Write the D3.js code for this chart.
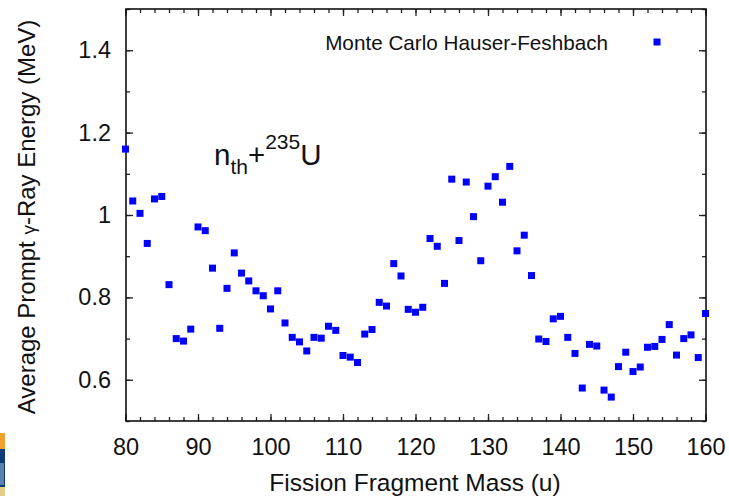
<!DOCTYPE html>
<html>
<head>
<meta charset="utf-8">
<script src="https://cdn.jsdelivr.net/npm/d3@7"></script>
<style>
  html, body { margin: 0; padding: 0; background: #fff; }
  svg { display: block; }
  text { font-family: "Liberation Sans", Arial, Helvetica, sans-serif; fill: #111; }
</style>
</head>
<body>
<script>
// Average prompt gamma-ray energy per fission fragment mass, n_th + 235U
const masses = [
  80, 81, 82, 83, 84, 85, 86, 87, 88, 89,
  90, 91, 92, 93, 94, 95, 96, 97, 98, 99,
  100, 101, 102, 103, 104, 105, 106, 107, 108, 109,
  110, 111, 112, 113, 114, 115, 116, 117, 118, 119,
  120, 121, 122, 123, 124, 125, 126, 127, 128, 129,
  130, 131, 132, 133, 134, 135, 136, 137, 138, 139,
  140, 141, 142, 143, 144, 145, 146, 147, 148, 149,
  150, 151, 152, 153, 154, 155, 156, 157, 158, 159,
  160
];
const energies = [
  1.160, 1.034, 1.004, 0.931, 1.039, 1.045, 0.831, 0.700, 0.694, 0.723,
  0.971, 0.962, 0.871, 0.725, 0.822, 0.908, 0.859, 0.840, 0.816, 0.804,
  0.772, 0.816, 0.738, 0.703, 0.692, 0.670, 0.703, 0.701, 0.730, 0.720,
  0.659, 0.655, 0.642, 0.711, 0.722, 0.788, 0.779, 0.882, 0.852, 0.771,
  0.764, 0.776, 0.943, 0.924, 0.834, 1.087, 0.938, 1.080, 0.996, 0.889,
  1.070, 1.093, 1.031, 1.118, 0.913, 0.951, 0.853, 0.699, 0.693, 0.748,
  0.754, 0.703, 0.664, 0.580, 0.686, 0.682, 0.575, 0.558, 0.632, 0.667,
  0.620, 0.631, 0.679, 0.681, 0.698, 0.734, 0.660, 0.700, 0.709, 0.654,
  0.761
];
const xMajorTicks = [80, 90, 100, 110, 120, 130, 140, 150, 160];
const xMinorTicks = d3.range(80, 161, 2);
const yMajorTicks = [0.6, 0.8, 1.0, 1.2, 1.4];
const yMinorTicks = [0.5, 0.6, 0.7, 0.8, 0.9, 1.0, 1.1, 1.2, 1.3, 1.4, 1.5];
const seriesName = "Monte Carlo Hauser-Feshbach";

const W = 729, H = 496;
const plotL = 126, plotR = 706, plotT = 9, plotB = 421;

const svg = d3.select("body").append("svg").attr("width", W).attr("height", H);

const x = d3.scaleLinear().domain([80, 160]).range([plotL - 0.5, plotR - 0.5]);
const y = d3.scaleLinear().domain([0.5, 1.5]).range([plotB, plotT]);

const yFmt = d => (d === 1 ? "1" : d3.format(".1f")(d));

// minor ticks (inward, all four sides)
const minorLen = 4, majorLen = 7;
svg.append("g").attr("transform", `translate(0,${plotB})`)
  .call(d3.axisBottom(x).tickValues(xMinorTicks).tickSizeInner(-minorLen).tickSizeOuter(0).tickFormat(""));
svg.append("g").attr("transform", `translate(0,${plotT})`)
  .call(d3.axisTop(x).tickValues(xMinorTicks).tickSizeInner(-minorLen).tickSizeOuter(0).tickFormat(""));
svg.append("g").attr("transform", `translate(${plotL},0)`)
  .call(d3.axisLeft(y).tickValues(yMinorTicks).tickSizeInner(-minorLen).tickSizeOuter(0).tickFormat(""));
svg.append("g").attr("transform", `translate(${plotR},0)`)
  .call(d3.axisRight(y).tickValues(yMinorTicks).tickSizeInner(-minorLen).tickSizeOuter(0).tickFormat(""));

// major ticks with labels
const xAxis = svg.append("g").attr("transform", `translate(0,${plotB})`)
  .call(d3.axisBottom(x).tickValues(xMajorTicks).tickSizeInner(-majorLen).tickSizeOuter(0).tickPadding(17));
const yAxis = svg.append("g").attr("transform", `translate(${plotL},0)`)
  .call(d3.axisLeft(y).tickValues(yMajorTicks).tickFormat(yFmt).tickSizeInner(-majorLen).tickSizeOuter(0).tickPadding(15));
svg.append("g").attr("transform", `translate(0,${plotT})`)
  .call(d3.axisTop(x).tickValues(xMajorTicks).tickSizeInner(-majorLen).tickSizeOuter(0).tickFormat(""));
svg.append("g").attr("transform", `translate(${plotR},0)`)
  .call(d3.axisRight(y).tickValues(yMajorTicks).tickSizeInner(-majorLen).tickSizeOuter(0).tickFormat(""));

svg.selectAll(".domain").remove();
svg.selectAll(".tick line").attr("stroke", "#222").attr("stroke-width", 1.3);
[xAxis, yAxis].forEach(g => g.selectAll("text")
  .attr("font-family", '"Liberation Sans", Arial, sans-serif')
  .attr("font-size", 23.5).attr("fill", "#111"));

// plot frame
svg.append("rect")
  .attr("x", plotL).attr("y", plotT)
  .attr("width", plotR - plotL).attr("height", plotB - plotT)
  .attr("fill", "none").attr("stroke", "#111").attr("stroke-width", 1.6);

// data points
const pts = masses.map((m, i) => ({ m, e: energies[i] }));
const ms = 7;
svg.append("g").selectAll("rect").data(pts).join("rect")
  .attr("x", d => x(d.m) - ms / 2)
  .attr("y", d => y(d.e) - ms / 2)
  .attr("width", ms).attr("height", ms)
  .attr("fill", "#0000ff");

// legend
svg.append("text")
  .attr("x", 608).attr("y", 50)
  .attr("text-anchor", "end")
  .attr("font-size", 20.7)
  .text(seriesName);
svg.append("rect")
  .attr("x", 657 - ms / 2).attr("y", 42 - ms / 2)
  .attr("width", ms).attr("height", ms)
  .attr("fill", "#0000ff");

// reaction annotation
const ann = svg.append("text").attr("x", 214).attr("y", 165).attr("font-size", 29.5);
ann.append("tspan").text("n");
ann.append("tspan").attr("font-size", 21).attr("dy", 9).text("th");
ann.append("tspan").attr("dy", -9).text("+");
ann.append("tspan").attr("font-size", 21).attr("dy", -16).text("235");
ann.append("tspan").attr("dy", 16).text("U");

// axis titles
svg.append("text")
  .attr("x", 415).attr("y", 491)
  .attr("text-anchor", "middle")
  .attr("font-size", 24.5)
  .text("Fission Fragment Mass (u)");

const yt = svg.append("text")
  .attr("transform", `translate(35,${(plotT + plotB) / 2 + 2}) rotate(-90)`)
  .attr("text-anchor", "middle")
  .attr("font-size", 24);
yt.append("tspan").text("Average Prompt ");
yt.append("tspan").attr("font-size", 19).text("\u03b3");
yt.append("tspan").text("-Ray Energy (MeV)");

// clipped logo strip at the lower-left edge
const strip = svg.append("g");
strip.append("rect").attr("x", 0).attr("y", 433).attr("width", 5).attr("height", 16).attr("fill", "#f2a030");
strip.append("rect").attr("x", 0).attr("y", 449).attr("width", 5).attr("height", 38).attr("fill", "#0d3b78");
strip.append("rect").attr("x", 0).attr("y", 463).attr("width", 4).attr("height", 22).attr("fill", "#8fb0d0").attr("opacity", 0.6);
strip.append("rect").attr("x", 0).attr("y", 487).attr("width", 5).attr("height", 9).attr("fill", "#e3cf8a");
</script>
</body>
</html>
